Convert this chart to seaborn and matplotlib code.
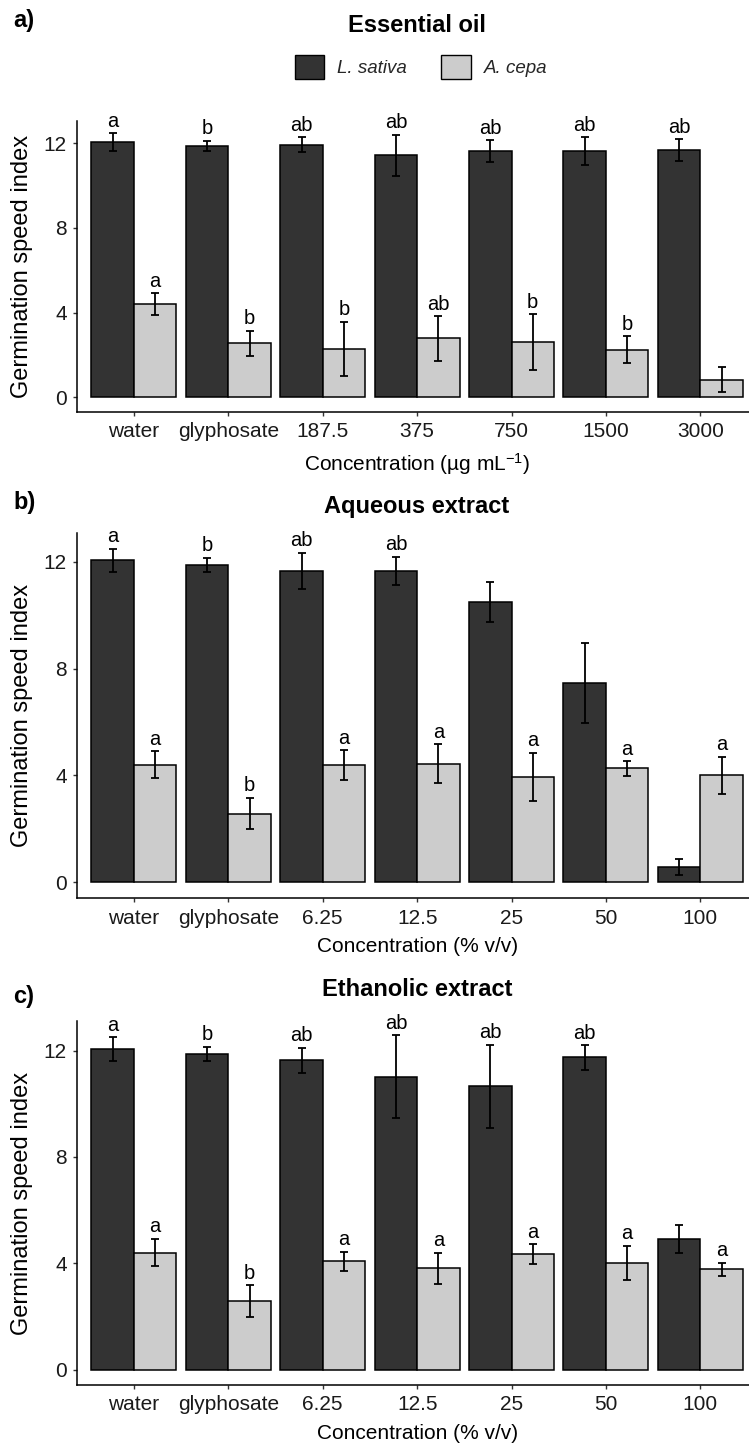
import numpy as np
import pandas as pd
import matplotlib
matplotlib.use("Agg")
import matplotlib.pyplot as plt
import seaborn as sns
from matplotlib.patches import Patch

# ---------------- data ----------------
species = ["L. sativa", "A. cepa"]
colors = ["#333333", "#CCCCCC"]

cats_a = ["water", "glyphosate", "187.5", "375", "750", "1500", "3000"]
cats_bc = ["water", "glyphosate", "6.25", "12.5", "25", "50", "100"]

# Essential oil
a_sat = [12.05, 11.88, 11.93, 11.44, 11.63, 11.63, 11.68]
a_sat_se = [0.43, 0.25, 0.35, 0.97, 0.52, 0.66, 0.53]
a_cep = [4.40, 2.55, 2.28, 2.78, 2.60, 2.24, 0.84]
a_cep_se = [0.53, 0.60, 1.29, 1.05, 1.33, 0.64, 0.59]
a_sat_let = ["a", "b", "ab", "ab", "ab", "ab", "ab"]
a_cep_let = ["a", "b", "b", "ab", "b", "b", ""]

# Aqueous extract
b_sat = [12.05, 11.88, 11.66, 11.66, 10.48, 7.46, 0.57]
b_sat_se = [0.44, 0.27, 0.67, 0.52, 0.75, 1.51, 0.31]
b_cep = [4.40, 2.57, 4.38, 4.44, 3.94, 4.26, 4.00]
b_cep_se = [0.51, 0.59, 0.56, 0.73, 0.91, 0.28, 0.70]
b_sat_let = ["a", "b", "ab", "ab", "", "", ""]
b_cep_let = ["a", "b", "a", "a", "a", "a", "a"]

# Ethanolic extract
c_sat = [12.05, 11.88, 11.64, 11.02, 10.66, 11.74, 4.91]
c_sat_se = [0.46, 0.26, 0.47, 1.55, 1.56, 0.46, 0.53]
c_cep = [4.40, 2.57, 4.08, 3.81, 4.34, 4.02, 3.77]
c_cep_se = [0.52, 0.60, 0.36, 0.59, 0.38, 0.64, 0.25]
c_sat_let = ["a", "b", "ab", "ab", "ab", "ab", ""]
c_cep_let = ["a", "b", "a", "a", "a", "a", "a"]

yticks = [0, 4, 8, 12]

# ---------------- style ----------------
sns.set_theme(style="white")
plt.rcParams["font.family"] = ["Liberation Sans", "DejaVu Sans"]
plt.rcParams["mathtext.fontset"] = "custom"
plt.rcParams["mathtext.rm"] = "Liberation Sans"
plt.rcParams["mathtext.it"] = "Liberation Sans:italic"
plt.rcParams["mathtext.default"] = "regular"

W, H = 749, 1445
fig = plt.figure(figsize=(W / 100, H / 100), dpi=100)


def px_axes(top, bottom, left=77.3, right=757.0):
    return fig.add_axes([left / W, (H - bottom) / H, (right - left) / W, (bottom - top) / H])


def draw(ax, cats, sat, sat_se, cep, cep_se, lsat, lcep, ylim, xlabel):
    df = pd.DataFrame({
        "conc": cats * 2,
        "gsi": sat + cep,
        "species": [species[0]] * len(cats) + [species[1]] * len(cats),
    })
    sns.barplot(data=df, x="conc", y="gsi", hue="species", order=cats,
                hue_order=species, palette=dict(zip(species, colors)),
                width=0.9, edgecolor="black", linewidth=1.1, errorbar=None,
                saturation=1, legend=False, ax=ax, zorder=2)
    for cont, se, letters in zip(ax.containers, [sat_se, cep_se], [lsat, lcep]):
        xs = [p.get_x() + p.get_width() / 2 for p in cont]
        hs = [p.get_height() for p in cont]
        ax.errorbar(xs, hs, yerr=se, fmt="none", ecolor="black",
                    elinewidth=1.3, capsize=2.8, capthick=1.3, zorder=5)
        for x, h, s, l in zip(xs, hs, se, letters):
            if l:
                ax.annotate(l, (x, h + s), xytext=(0, 4.6), textcoords="offset points",
                            ha="center", va="baseline", fontsize=14.5, color="black")
    ax.set_xlim(-0.6, 6.6)
    ax.set_ylim(*ylim)
    ax.set_yticks(yticks)
    ax.set_yticklabels([str(t) for t in yticks])
    for s in ["top", "right"]:
        ax.spines[s].set_visible(False)
    for s in ["left", "bottom"]:
        ax.spines[s].set_color("black")
        ax.spines[s].set_linewidth(1.1)
    ax.tick_params(axis="both", length=3, width=1, color="#333333",
                   labelsize=15, labelcolor="#1a1a1a", pad=4.5,
                   bottom=True, left=True)
    ax.set_xlabel(xlabel, fontsize=15, labelpad=7, color="black")
    ax.set_ylabel("Germination speed index", fontsize=17, color="black")
    ax.yaxis.set_label_coords(-0.0646, 0.5)
    ax.grid(False)


ax_a = px_axes(120.7, 411.7)
draw(ax_a, cats_a, a_sat, a_sat_se, a_cep, a_cep_se, a_sat_let, a_cep_let,
     (-0.68, 13.07), r"Concentration (µg mL$^{-1}$)")
ax_b = px_axes(533.3, 898.3)
draw(ax_b, cats_bc, b_sat, b_sat_se, b_cep, b_cep_se, b_sat_let, b_cep_let,
     (-0.60, 13.06), "Concentration (% v/v)")
ax_c = px_axes(1021.0, 1385.0)
draw(ax_c, cats_bc, c_sat, c_sat_se, c_cep, c_cep_se, c_sat_let, c_cep_let,
     (-0.58, 13.11), "Concentration (% v/v)")

# titles and panel labels
for title, tb, lab, lb in [("Essential oil", 31.5, "a)", 27.5),
                           ("Aqueous extract", 513.5, "b)", 509.5),
                           ("Ethanolic extract", 996.0, "c)", 1003.0)]:
    fig.text(417 / W, 1 - tb / H, title, ha="center", va="baseline",
             fontsize=17, fontweight="bold", color="black")
    fig.text(13 / W, 1 - lb / H, lab, ha="left", va="baseline",
             fontsize=17, fontweight="bold", color="black")

# legend
handles = [Patch(facecolor=c, edgecolor="black", linewidth=1.0, label=s)
           for s, c in zip(species, colors)]
ax_a.legend(handles=handles, loc="center", bbox_to_anchor=(421 / W, 1 - 67 / H),
            bbox_transform=fig.transFigure, ncol=2, frameon=False,
            prop=dict(style="italic", size=13.5), handlelength=1.55,
            handleheight=1.55, handletextpad=0.7, columnspacing=1.85,
            borderpad=0, borderaxespad=0)

fig.savefig("out.png", dpi=100)
